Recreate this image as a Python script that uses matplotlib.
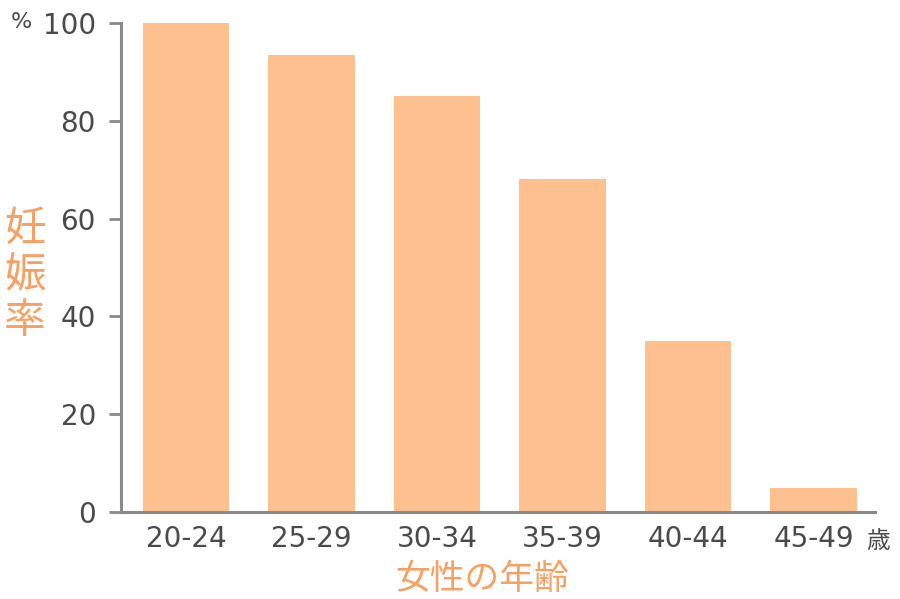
import matplotlib

matplotlib.use("Agg")

import matplotlib.pyplot as plt

AGE_GROUPS = ["20-24", "25-29", "30-34", "35-39", "40-44", "45-49"]
PREGNANCY_RATE = [100, 93.5, 85, 68, 35, 5]
Y_TICKS = [0, 20, 40, 60, 80, 100]
Y_TITLE = ["妊", "娠", "率"]

BAR_COLOR = "#FFC090"
AXIS_COLOR = "#8a8a8a"
TEXT_COLOR = "#4a4a4a"
LABEL_COLOR = "#F7A063"
FONT = ["Noto Sans CJK JP", "DejaVu Sans"]
NUM_FONT = ["DejaVu Sans", "Noto Sans CJK JP"]

plt.rcParams["font.family"] = FONT

fig = plt.figure(figsize=(9, 5.99), dpi=100, facecolor="white")
ax = fig.add_axes([0.1344, 0.1452, 0.8378, 0.8164])

x = list(range(len(AGE_GROUPS)))
ax.bar(x, PREGNANCY_RATE, width=0.69, color=BAR_COLOR)

ax.set_xlim(-0.52, 5.49)
ax.set_ylim(0, 100)
ax.set_yticks(Y_TICKS)
ax.set_xticks(x)
ax.set_xticklabels(AGE_GROUPS)

for side in ("top", "right"):
    ax.spines[side].set_visible(False)
for side in ("left", "bottom"):
    ax.spines[side].set_color(AXIS_COLOR)
    ax.spines[side].set_linewidth(2.2)

ax.tick_params(axis="y", length=9, width=2, color=AXIS_COLOR, labelsize=20,
               labelcolor=TEXT_COLOR, pad=9)
ax.tick_params(axis="x", length=0, labelsize=20, labelcolor=TEXT_COLOR, pad=9)
for lab in ax.get_xticklabels() + ax.get_yticklabels():
    lab.set_family(NUM_FONT)

fig.text(11 / 900, 1 - 22 / 599, "%", fontsize=16, color=TEXT_COLOR,
         ha="left", va="center", family=NUM_FONT)
fig.text(866 / 900, 1 - 541 / 599, "歳", fontsize=17, color=TEXT_COLOR,
         ha="left", va="center")
for i, ch in enumerate(Y_TITLE):
    fig.text(25 / 900, 1 - (229 + 46 * i) / 599, ch, fontsize=30,
             color=LABEL_COLOR, ha="center", va="center")
fig.text(482 / 900, 1 - 580 / 599, "女性の年齢", fontsize=25, color=LABEL_COLOR,
         ha="center", va="center")

fig.savefig("out.png", dpi=100, facecolor="white")
